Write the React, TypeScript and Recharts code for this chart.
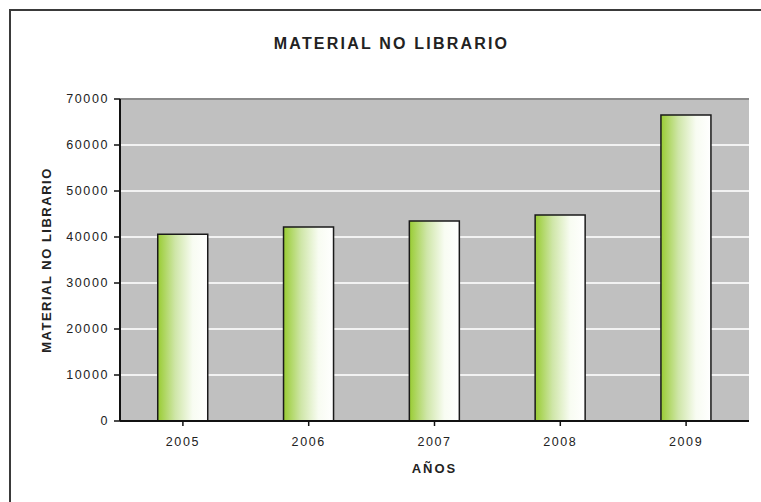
import React from "react";
import {
  BarChart,
  Bar,
  XAxis,
  YAxis,
  CartesianGrid,
  ReferenceLine,
} from "recharts";

const years = ["2005", "2006", "2007", "2008", "2009"];
const values = [40600, 42200, 43500, 44800, 66500];
const yTicks = [0, 10000, 20000, 30000, 40000, 50000, 60000, 70000];

const data = years.map((y, i) => ({ year: y, value: values[i] }));

const FONT = "Arial, 'Liberation Sans', sans-serif";

export default function App() {
  return (
    <div
      style={{
        position: "absolute",
        left: 0,
        top: 0,
        width: 761,
        height: 502,
        background: "#fff",
        overflow: "hidden",
        fontFamily: FONT,
      }}
    >
      <div
        style={{
          position: "absolute",
          left: 9,
          top: 9,
          width: 760,
          height: 2,
          background: "#3a3a3a",
        }}
      />
      <div
        style={{
          position: "absolute",
          left: 9,
          top: 9,
          width: 2,
          height: 500,
          background: "#3a3a3a",
        }}
      />
      <div
        style={{
          position: "absolute",
          left: 0,
          top: 35,
          width: 761,
          textAlign: "center",
          paddingLeft: 22,
          boxSizing: "border-box",
          fontSize: 16,
          fontWeight: "bold",
          letterSpacing: 2.2,
          color: "#222",
        }}
      >
        MATERIAL NO LIBRARIO
      </div>
      <div style={{ position: "absolute", left: 0, top: 0 }}>
        <BarChart
          width={761}
          height={502}
          data={data}
          margin={{ top: 99, right: 12, bottom: 51, left: 0 }}
          barCategoryGap="30%"
        >
          <defs>
            <linearGradient id="barGrad" x1="0" y1="0" x2="1" y2="0">
              <stop offset="0%" stopColor="#99CC33" />
              <stop offset="35%" stopColor="#cfe6a8" />
              <stop offset="70%" stopColor="#f8fcf2" />
              <stop offset="100%" stopColor="#ffffff" />
            </linearGradient>
          </defs>
          <CartesianGrid
            yAxisId="left"
            vertical={false}
            horizontal={true}
            fill="#C0C0C0"
            stroke="#f2f2f2"
            strokeWidth={2}
          />
          <ReferenceLine yAxisId="left" y={70000} stroke="#8a8a8a" strokeWidth={2} />
          <XAxis
            dataKey="year"
            height={30}
            axisLine={{ stroke: "#111", strokeWidth: 2 }}
            tickLine={{ stroke: "#111", strokeWidth: 1.5 }}
            tickSize={5}
            tickMargin={11}
            interval={0}
            tick={{ fill: "#222", fontSize: 12.5, fontFamily: FONT, letterSpacing: 1.6 }}
            label={{
              value: "AÑOS",
              position: "insideBottom",
              offset: -22,
              fill: "#222",
              fontSize: 13,
              fontWeight: "bold",
              fontFamily: FONT,
              letterSpacing: 2,
            }}
          />
          <YAxis
            yAxisId="left"
            width={120}
            domain={[0, 70000]}
            ticks={yTicks}
            interval={0}
            axisLine={{ stroke: "#111", strokeWidth: 2 }}
            tickLine={{ stroke: "#111", strokeWidth: 1.5 }}
            tickSize={6}
            tickMargin={5}
            tick={{ fill: "#222", fontSize: 12.5, fontFamily: FONT, letterSpacing: 1.6 }}
            label={{
              value: "MATERIAL NO LIBRARIO",
              angle: -90,
              position: "center",
              dx: -14,
              fill: "#222",
              fontSize: 13,
              fontWeight: "bold",
              fontFamily: FONT,
              letterSpacing: 1.5,
            }}
          />
          <YAxis
            yAxisId="right"
            orientation="right"
            width={0}
            domain={[0, 70000]}
            tick={false}
            tickLine={false}
            axisLine={{ stroke: "#8a8a8a", strokeWidth: 2 }}
          />
          <Bar
            yAxisId="left"
            dataKey="value"
            fill="url(#barGrad)"
            stroke="#1a1a1a"
            strokeWidth={1.5}
            isAnimationActive={false}
          />
        </BarChart>
      </div>
    </div>
  );
}
